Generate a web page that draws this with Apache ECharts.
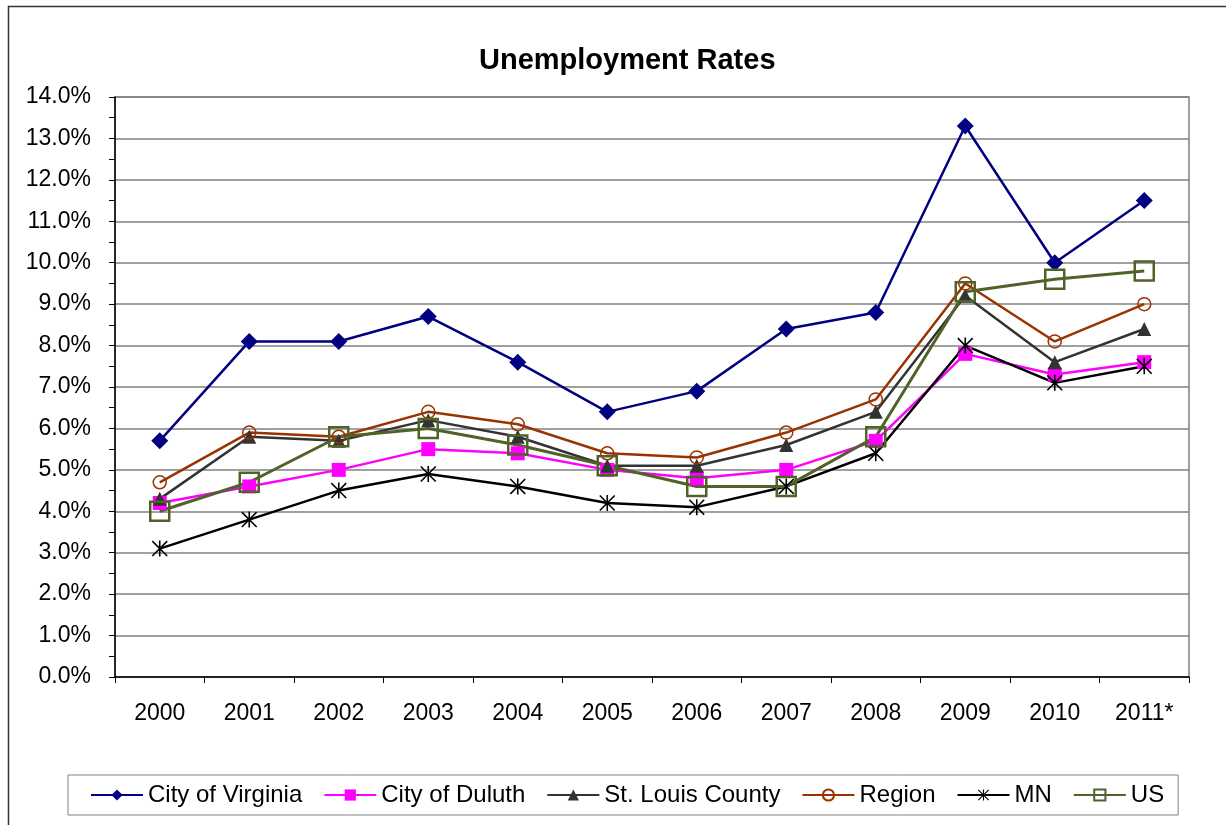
<!DOCTYPE html>
<html>
<head>
<meta charset="utf-8">
<script src="https://cdn.jsdelivr.net/npm/echarts@6/dist/echarts.min.js"></script>
<style>
html,body{margin:0;padding:0;background:#fff;}
#chart{width:1226px;height:825px;}
</style>
</head>
<body>
<div id="chart"></div>
<script>
const categories = ['2000','2001','2002','2003','2004','2005','2006','2007','2008','2009','2010','2011*'];
const cityOfVirginia = [5.7, 8.1, 8.1, 8.7, 7.6, 6.4, 6.9, 8.4, 8.8, 13.3, 10.0, 11.5];
const cityOfDuluth   = [4.2, 4.6, 5.0, 5.5, 5.4, 5.0, 4.8, 5.0, 5.7, 7.8, 7.3, 7.6];
const stLouisCounty  = [4.3, 5.8, 5.7, 6.2, 5.8, 5.1, 5.1, 5.6, 6.4, 9.2, 7.6, 8.4];
const region         = [4.7, 5.9, 5.8, 6.4, 6.1, 5.4, 5.3, 5.9, 6.7, 9.5, 8.1, 9.0];
const mn             = [3.1, 3.8, 4.5, 4.9, 4.6, 4.2, 4.1, 4.6, 5.4, 8.0, 7.1, 7.5];
const us             = [4.0, 4.7, 5.8, 6.0, 5.6, 5.1, 4.6, 4.6, 5.8, 9.3, 9.6, 9.8];

const asterisk = 'path://M9,0L11,0L11,20L9,20Z M0,1.4L1.4,0L20,18.6L18.6,20Z M18.6,0L20,1.4L1.4,20L0,18.6Z';
const FONT = 'Liberation Sans, Arial, sans-serif';

const chart = echarts.init(document.getElementById('chart'));
function mk(name, data, color, symbol, size, lw, item) {
  return {
    name, type: 'line', data, symbol, symbolSize: size,
    lineStyle: { color, width: lw },
    itemStyle: Object.assign({ color, opacity: 1 }, item || {}),
    emphasis: { disabled: true },
    animation: false
  };
}
chart.setOption({
  backgroundColor: '#fff',
  animation: false,
  title: {
    text: 'Unemployment Rates', left: 474, top: 41,
    textStyle: { fontFamily: FONT, fontSize: 29, fontWeight: 'bold', color: '#000' }
  },
  graphic: [{
    type: 'rect', left: 6, top: 4, shape: { width: 1300, height: 900 },
    style: { fill: 'none', stroke: '#333', lineWidth: 1.5 }, silent: true, z: -1
  }],
  legend: {
    bottom: 10, left: 68,
    padding: [8, 14, 8, 22],
    borderColor: '#808080', borderWidth: 1,
    itemWidth: 52, itemHeight: 14, itemGap: 21,
    textStyle: { fontFamily: FONT, fontSize: 24, color: '#000' },
    data: ['City of Virginia','City of Duluth','St. Louis County','Region','MN','US']
  },
  grid: {
    left: 115, top: 97, right: 37, bottom: 148,
    show: true, borderColor: '#808080', borderWidth: 1.5
  },
  xAxis: {
    type: 'category', data: categories, boundaryGap: true,
    axisLine: { lineStyle: { color: '#000', width: 1.5 } },
    axisTick: { show: true, alignWithLabel: false, inside: false, length: 6, lineStyle: { color: '#000' } },
    axisLabel: { fontFamily: FONT, fontSize: 23, color: '#000', margin: 25 },
    splitLine: { show: false }
  },
  yAxis: {
    type: 'value', min: 0, max: 14, interval: 1,
    axisLine: { show: true, lineStyle: { color: '#000', width: 1.5 } },
    axisTick: { show: true, length: 6, lineStyle: { color: '#000' } },
    minorTick: { show: true, splitNumber: 2, length: 6, lineStyle: { color: '#000' } },
    axisLabel: { fontFamily: FONT, fontSize: 23, color: '#000', margin: 24,
      formatter: v => v.toFixed(1) + '%' },
    splitLine: { show: true, lineStyle: { color: '#808080', width: 1.5 } }
  },
  series: [
    mk('City of Virginia', cityOfVirginia, '#000080', 'diamond', 17, 2.5),
    mk('City of Duluth', cityOfDuluth, '#FF00FF', 'rect', 14, 2.5),
    mk('St. Louis County', stLouisCounty, '#333333', 'triangle', 14, 2.5),
    mk('Region', region, '#993300', 'circle', 13, 2.5,
       { color: 'rgba(0,0,0,0)', borderColor: '#993300', borderWidth: 1.5 }),
    mk('MN', mn, '#000000', asterisk, 16, 2.5),
    mk('US', us, '#4F6228', 'rect', 19, 3,
       { color: 'rgba(0,0,0,0)', borderColor: '#4F6228', borderWidth: 2.5 })
  ]
});
</script>
</body>
</html>
